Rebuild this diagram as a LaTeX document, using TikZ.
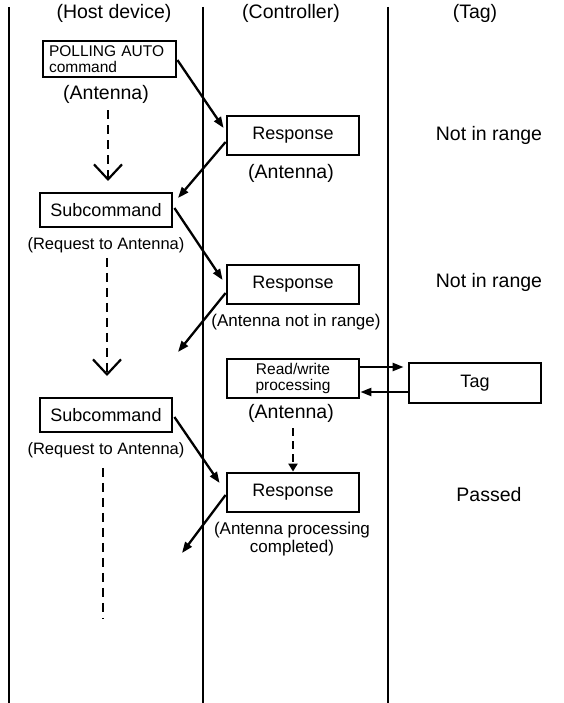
\documentclass[tikz,border=0pt]{standalone}
\usepackage{fontspec}
\setmainfont{Liberation Sans}
\usetikzlibrary{arrows.meta,calc}
\begin{document}
\begin{tikzpicture}[x=1pt,y=-1pt,
  lane/.style={line width=2.2pt, draw=black},
  box/.style={draw, line width=2.8pt, minimum width=132pt, minimum height=39pt, inner sep=0pt, font=\fontsize{18}{20}\selectfont},
  lbl/.style={inner sep=0pt, font=\fontsize{17}{18}\selectfont, align=center},
  req/.style={inner sep=0pt, font=\fontsize{16.5}{18}\selectfont},
  big/.style={inner sep=0pt, font=\fontsize{19.5}{22}\selectfont},
  small/.style={font=\fontsize{15.5}{16}\selectfont},
  arr/.style={line width=2.3pt, -{Triangle[length=11pt,width=8pt]}},
  dashv/.style={line width=2.2pt, dash pattern=on 9pt off 6pt, -{Straight Barb[length=15pt,width=28pt,line width=2.2pt]}},
  dashp/.style={line width=2.2pt, dash pattern=on 9pt off 6pt},
  dasht/.style={line width=2.2pt, dash pattern=on 8pt off 5pt, -{Triangle[length=8pt,width=9pt]}},
]
\useasboundingbox (0,0) rectangle (564,703);

% lanes
\draw[lane] (9,7) -- (9,703);
\draw[lane] (203,7) -- (203,703);
\draw[lane] (388,7) -- (388,703);

% headers
\node[big] (hh) at (114,13) {(Host device)};
\node[big] (hc) at (291,13) {(Controller)};
\node[big] (ht) at (475,13) {(Tag)};

% host side
\node[box, small, minimum width=133pt, minimum height=36pt, text width=121pt, inner xsep=6pt, align=left] (poll) at (109.5,59) {POLLING AUTO\\command};
\node[big] (pa) at (106,94) {(Antenna)};
\coordinate (v1) at (108,181);
\draw[dashv] ($(pa.south -| v1)+(0,7)$) -- (v1);

\node[box, minimum height=34pt] (s1) at (106,210) {Subcommand};
\node[req] (s1l) at (106,245) {(Request to Antenna)};
\coordinate (v2) at (107,376);
\draw[dashv] ($(s1l.south -| v2)+(0,5)$) -- (v2);

\node[box, minimum height=34pt] (s2) at (106,415) {Subcommand};
\node[req] (s2l) at (106,450) {(Request to Antenna)};
\coordinate (v3) at (103,618);
\draw[dashp] ($(s2l.south -| v3)+(0,10)$) -- (v3);

% controller side
\node[box] (r1) at (293,135.5) {Response};
\node[big] (r1l) at (291,173) {(Antenna)};

\node[box] (r2) at (293,284.5) {Response\hspace{12pt}};
\node[lbl] (r2l) at (296,322) {(Antenna not in range)};

\node[box, small, align=center] (rw) at (293,378.5) {Read/write\\processing};
\node[big] (rwl) at (291,413) {(Antenna)};

\node[box] (r3) at (293,492.5) {Response\hspace{20pt}};
\node[lbl] (r3l) at (292,539) {(Antenna processing\\completed)};

\draw[dasht] ($(rwl.south -| r3.north)+(0,6)$) -- (r3.north);

% tag side
\node[big] (n1) at (489,135) {Not in range};
\node[big] (n2) at (489,282) {Not in range};
\node[box, minimum height=40pt] (tag) at (475,383) {Tag};
\node[big] (ps) at (489,495) {Passed};

% free ends
\coordinate (e1) at (178,198);
\coordinate (e2) at (178,352);
\coordinate (e3) at (182,553);

% message arrows
\draw[arr] ([yshift=-1pt]poll.east) -- ([xshift=-2pt,yshift=7.5pt]r1.west);
\draw[arr] ([yshift=-6.5pt]r1.west) -- (e1);
\draw[arr] ([xshift=1pt,yshift=2pt]s1.east) -- ([xshift=-3pt,yshift=4.5pt]r2.west);
\draw[arr] ([yshift=-8.5pt]r2.west) -- (e2);
\draw[arr] ([xshift=1pt,yshift=-2pt]s2.east) -- ([xshift=-6pt,yshift=9.5pt]r3.west);
\draw[arr] ([yshift=-2.5pt]r3.west) -- (e3);

\draw[arr, shorten >=4pt] ([yshift=11.5pt]rw.east) -- ([yshift=11.5pt]rw.east -| tag.west);
\draw[arr] ([yshift=-9pt]tag.west) -- ([yshift=-9pt]tag.west -| rw.east);
\end{tikzpicture}
\end{document}
